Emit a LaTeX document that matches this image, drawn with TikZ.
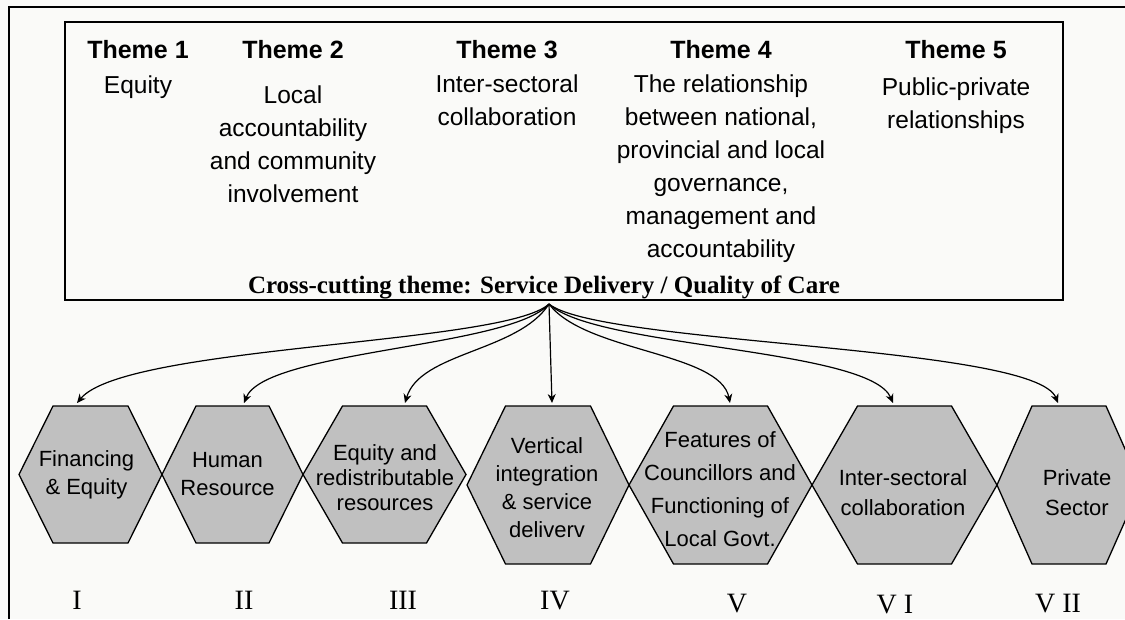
\documentclass[tikz,border=0pt]{standalone}
\usepackage{fontspec}
\setmainfont{Liberation Serif}
\setsansfont{Liberation Sans}
\usetikzlibrary{arrows.meta}
\definecolor{hexgray}{RGB}{192,192,192}
\definecolor{paper}{RGB}{250,250,248}

\begin{document}
\begin{tikzpicture}[x=1pt,y=-1pt,
  themetitle/.style={font=\sffamily\bfseries\fontsize{25}{30}\selectfont, anchor=base, inner sep=0pt},
  themebody/.style={font=\sffamily\fontsize{24.5}{33}\selectfont, align=center, anchor=north, inner sep=0pt},
  hexagon/.style={draw=black, fill=hexgray, line width=1.3pt, line join=miter},
  hextext/.style={font=\sffamily\fontsize{22}{28}\selectfont, align=center, inner sep=0pt},
  numeral/.style={font=\fontsize{28}{30}\selectfont, anchor=base, inner sep=0pt},
  link/.style={-{Stealth[length=9pt,width=8pt]}, line width=1.2pt}]
\clip (0,0) rectangle (1125,619);
\fill[paper] (0,0) rectangle (1125,619);
% frame and theme box
\draw[line width=2pt] (9,619) -- (9,7) -- (1125,7);
\draw[line width=1.5pt] (65,22) rectangle (1063,300);
% the five themes
\node[themetitle] (t1) at (138,58) {Theme 1};
\node[themetitle] (t2) at (293,58) {Theme 2};
\node[themetitle] (t3) at (507,58) {Theme 3};
\node[themetitle] (t4) at (721,58) {Theme 4};
\node[themetitle] (t5) at (956,58) {Theme 5};
\node[themebody] (b1) at (138,76) {Equity};
\node[themebody] (b2) at (293,86) {Local\\accountability\\and community\\involvement};
\node[themebody] (b3) at (507,75) {Inter-sectoral\\collaboration};
\node[themebody] (b4) at (721,75) {The relationship\\between national,\\provincial and local\\governance,\\management and\\accountability};
\node[themebody] (b5) at (956,78) {Public-private\\relationships};
\node[font=\bfseries\fontsize{25}{30}\selectfont, anchor=base, inner sep=0pt] (cross) at (544,293)
  {Cross-cutting theme: Service Delivery / Quality of Care};
% hexagons: centre x / centre y / half width / half top / half height
\foreach \cx/\cy/\w/\t/\h in {90.5/474.5/71.5/37.5/68.5, 232.5/474.5/70.5/36.5/68.5,
    384.5/474.5/81.5/42/68.5, 548/485/81/42.5/79, 720.5/485/91.5/47/79,
    904.5/485/92.5/47/79, 1069/485/72/37/79}
  \draw[hexagon] (\cx-\w,\cy) -- (\cx-\t,\cy-\h) -- (\cx+\t,\cy-\h) -- (\cx+\w,\cy)
    -- (\cx+\t,\cy+\h) -- (\cx-\t,\cy+\h) -- cycle;
\node[hextext] (h1) at (86.5,475) {Financing\\\& Equity};
\node[hextext] (h2) at (227.5,474) {Human\\Resource};
\node[hextext, font=\sffamily\fontsize{22}{25}\selectfont] (h3) at (385,478) {Equity and\\redistributable\\resources};
\node[hextext] (h4) at (547,488) {Vertical\\integration\\\& service\\deliverv};
\node[hextext, font=\sffamily\fontsize{22}{33}\selectfont] (h5) at (720,489) {Features of\\Councillors and\\Functioning of\\Local Govt.};
\node[hextext, font=\sffamily\fontsize{22}{30}\selectfont] (h6) at (903,493) {Inter-sectoral\\collaboration};
\node[hextext, font=\sffamily\fontsize{22}{30}\selectfont] (h7) at (1077,493) {Private\\Sector};
% numerals
\node[numeral] (n1) at (77,609) {I};
\node[numeral] (n2) at (244,609) {II};
\node[numeral] (n3) at (403,609) {III};
\node[numeral] (n4) at (555,609) {IV};
\node[numeral] (n5) at (737,612) {V};
\node[numeral] (n6) at (895,613) {V I};
\node[numeral] (n7) at (1058,612) {V II};
% arrows from the cross-cutting theme
\coordinate (hub) at (549,304);
\coordinate (e1) at (77,403);
\coordinate (e2) at (244,403);
\coordinate (e3) at (405,403);
\coordinate (e4) at (552,403);
\coordinate (e5) at (730,403);
\coordinate (e6) at (893,403);
\coordinate (e7) at (1058,403);
\draw[link] (hub) .. controls (505,345) and (125,345) .. (e1);
\draw[link] (hub) .. controls (510,348) and (265,350) .. (e2);
\draw[link] (hub) .. controls (518,352) and (420,352) .. (e3);
\draw[link] (hub) -- (e4);
\draw[link] (hub) .. controls (585,352) and (720,352) .. (e5);
\draw[link] (hub) .. controls (595,348) and (870,348) .. (e6);
\draw[link] (hub) .. controls (600,345) and (1035,345) .. (e7);
\end{tikzpicture}
\end{document}
